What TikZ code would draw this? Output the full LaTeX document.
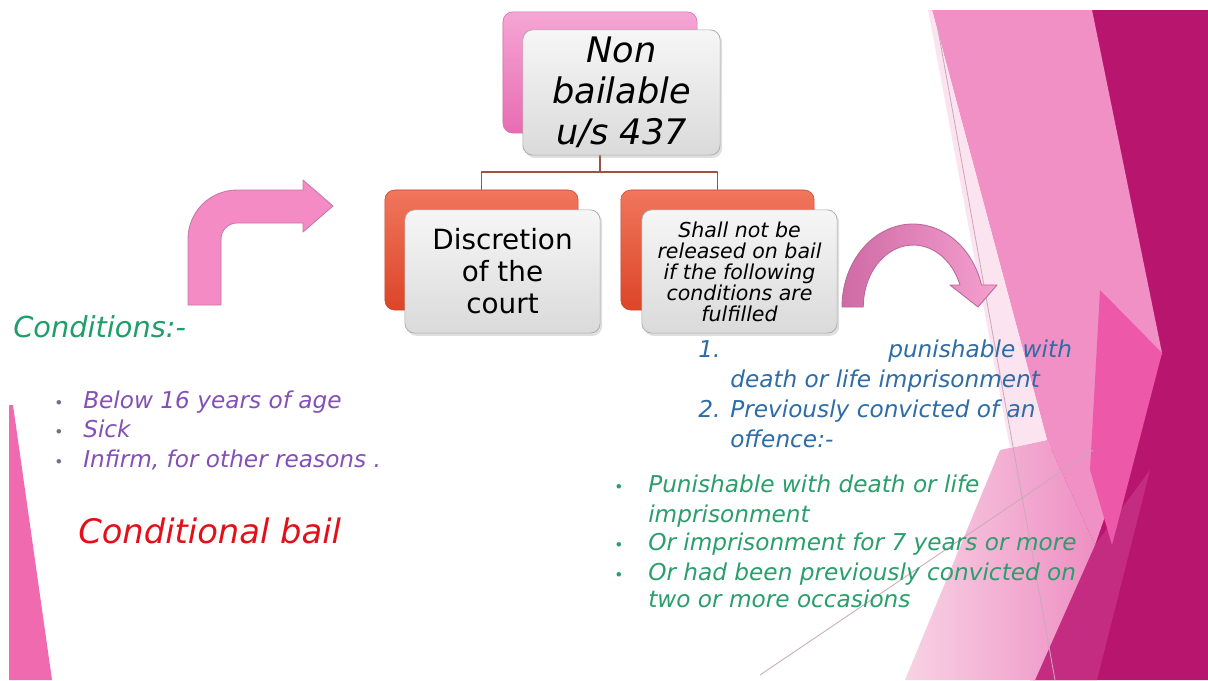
\documentclass[tikz,border=0pt]{standalone}
\usepackage{fontspec}
\setmainfont{DejaVu Sans}
\usetikzlibrary{calc,positioning,shadows}
% slide background facets
\definecolor{stripink}{HTML}{F06AB0}
\definecolor{facetlight}{HTML}{F190C5}
\definecolor{facetpale}{HTML}{F8D2E4}
\definecolor{facetmid}{HTML}{EE8FC3}
\definecolor{facetsliver}{HTML}{FBE4EF}
\definecolor{facethot}{HTML}{EE58A9}
\definecolor{facetplum}{HTML}{C42C82}
\definecolor{facetdark}{HTML}{B8166E}
\definecolor{facetline}{HTML}{C9AABB}
% chart boxes
\definecolor{pinkhi}{HTML}{F5A6D4}
\definecolor{pinklo}{HTML}{E86CB3}
\definecolor{pinkedge}{HTML}{D070A8}
\definecolor{redhi}{HTML}{F0765C}
\definecolor{redlo}{HTML}{DC4528}
\definecolor{rededge}{HTML}{C9452E}
\definecolor{boxhi}{HTML}{F6F6F6}
\definecolor{boxlo}{HTML}{DADADA}
\definecolor{boxedge}{HTML}{A9A9A9}
\definecolor{connline}{HTML}{A0523E}
% arrows
\definecolor{arrowpink}{HTML}{F48BC4}
\definecolor{arrowedge}{HTML}{C877A6}
\definecolor{arcdark}{HTML}{CF6AA5}
\definecolor{arclight}{HTML}{F5A0CF}
\definecolor{arcedge}{HTML}{B8689A}
% text
\definecolor{condgreen}{HTML}{1F9E6A}
\definecolor{listpurple}{HTML}{8450B8}
\definecolor{bulletgrey}{HTML}{7A6A8A}
\definecolor{bailred}{HTML}{E3101A}
\definecolor{listblue}{HTML}{2E6CA6}
\definecolor{listgreen}{HTML}{2A9E6B}

\begin{document}
\begin{tikzpicture}[x=0.025cm,y=-0.025cm,line join=round,
  backtop/.style={rounded corners=7pt,minimum width=4.85cm,minimum height=3.03cm,
    top color=pinkhi,bottom color=pinklo,draw=pinkedge,line width=0.4pt},
  backred/.style={rounded corners=7pt,minimum width=4.83cm,minimum height=3cm,
    top color=redhi,bottom color=redlo,draw=rededge,line width=0.4pt},
  frontbox/.style={rounded corners=7pt,top color=boxhi,bottom color=boxlo,draw=boxedge,
    line width=0.5pt,align=center,inner sep=2pt,text=black,
    drop shadow={shadow xshift=1.5pt,shadow yshift=-2pt,opacity=0.25}},
  conn/.style={draw=connline,line width=0.9pt},
  listtxt/.style={inner sep=0pt,anchor=base west,font=\fontsize{16.5}{21}\selectfont\itshape},
  dot/.style={inner sep=0pt,anchor=base west,font=\fontsize{11}{11}\selectfont}]
  \useasboundingbox (0,0) rectangle (1208,680);
  \fill[white] (0,0) rectangle (1208,680);

  % ---- pink strip, left edge ----
  \fill[stripink] (9,405) -- (13,405) -- (52,680) -- (9,680) -- cycle;

  % ---- facets, right edge ----
  \fill[facetdark] (1092,10) -- (1208,10) -- (1208,680) -- (1030,680) -- cycle;
  \fill[facetplum] (1033,680) -- (1095,545) -- (1150,470) -- (1097,680) -- cycle;
  \fill[facetlight] (932,10) -- (1092,10) -- (1162,353) -- (1095,545) -- (1047,440) -- cycle;
  \fill[facethot] (1100,290) -- (1162,353) -- (1112,545) -- (1090,470) -- cycle;
  \shade[left color=facetpale,right color=facetmid] (905,680) -- (1000,450) -- (1047,440) -- (1095,545) -- (1035,680) -- cycle;
  \fill[facetsliver] (928,10) -- (932,10) -- (1047,440) -- (1010,448) -- cycle;
  \draw[facetline,line width=0.6pt] (938,30) -- (1055,680);
  \draw[facetline,line width=0.6pt] (760,675) -- (1093,450);

  % ---- bent arrow ----
  \draw[draw=arrowedge,fill=arrowpink,line width=0.6pt] (188,305) -- (188,239)
    arc[start angle=180,end angle=270,radius=49] -- (303,190) -- (303,180) -- (333,206)
    -- (303,232) -- (303,223) -- (237,223) arc[start angle=270,end angle=180,radius=16]
    -- (221,305) -- cycle;

  % ---- curved arrow ----
  \shadedraw[left color=arcdark,right color=arclight,draw=arcedge,line width=0.6pt] (842,307)
    arc[start angle=180,end angle=344.6,x radius=71,y radius=83] -- (997,285) -- (978,307)
    -- (950,285) -- (960,285) arc[start angle=339.2,end angle=180,x radius=50,y radius=62]
    -- cycle;

  % ---- chart ----
  \node[backtop] (nbback) at (600,72.5) {};
  \node[backred] (discback) at (481.5,250) {};
  \node[backred] (shallback) at (717.5,250) {};
  \coordinate (fork) at (600,172);
  \draw[conn] (nbback.south) -- (fork);
  \draw[conn] (fork) -| (discback.north);
  \draw[conn] (fork) -| (shallback.north);
  \node[frontbox,minimum width=4.93cm,minimum height=3.13cm,
    font=\fontsize{25}{29}\selectfont\itshape] (nbfront) at (621.5,92.5) {Non\\bailable\\u/s 437};
  \node[frontbox,minimum width=4.88cm,minimum height=3.08cm,
    font=\fontsize{19.8}{22.7}\selectfont] (discfront) at (502.5,271.5) {Discretion\\of the\\court};
  \node[frontbox,minimum width=4.88cm,minimum height=3.08cm,
    font=\fontsize{14.6}{14.9}\selectfont\itshape] (shallfront) at (739.5,271.5)
    {Shall not be\\released on bail\\if the following\\conditions are\\fulfilled};

  % ---- left texts ----
  \node[inner sep=0pt,anchor=base west,text=condgreen,font=\fontsize{20.5}{24}\selectfont\itshape]
    (cond) at (13,337) {Conditions:-};
  \foreach \t/\y [count=\i] in {Below 16 years of age/408,Sick/437,{Infirm, for other reasons .}/467}{
    \node[dot,text=bulletgrey] (whydot\i) at (54,\y) {•};
    \node[listtxt,text=listpurple] (why\i) at (83,\y) {\t};
  }
  \node[inner sep=0pt,anchor=base west,text=bailred,font=\fontsize{24}{28}\selectfont\itshape]
    (bail) at (78,543) {Conditional bail};

  % ---- right texts ----
  \node[listtxt,text=listblue] (one) at (698,357) {1.};
  \node[listtxt,text=listblue] (onea) at (888,357) {punishable with};
  \node[listtxt,text=listblue] (oneb) at (730,387) {death or life imprisonment};
  \node[listtxt,text=listblue] (two) at (698,417) {2.};
  \node[listtxt,text=listblue] (twoa) at (730,417) {Previously convicted of an};
  \node[listtxt,text=listblue] (twob) at (730,447) {offence:-};
  \foreach \t/\y [count=\i] in {Punishable with death or life/492,imprisonment/522,
    Or imprisonment for 7 years or more/550,Or had been previously convicted on/580,
    two or more occasions/607}{
    \node[listtxt,text=listgreen] (off\i) at (648,\y) {\t};
  }
  \foreach \y [count=\i] in {492,550,580}{
    \node[dot,text=listgreen] (offdot\i) at (614,\y) {•};
  }
\end{tikzpicture}
\end{document}
